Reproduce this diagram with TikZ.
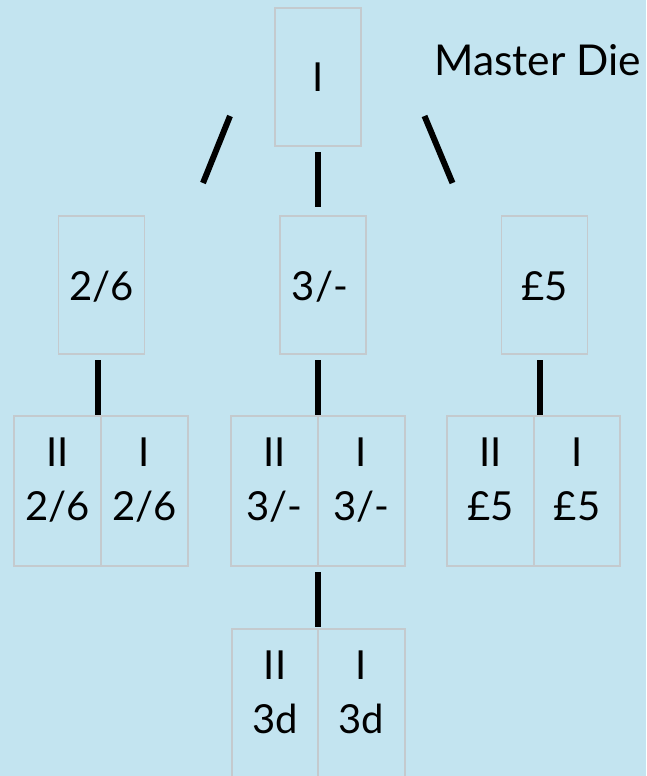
\documentclass[tikz,border=0pt]{standalone}
\usepackage{fontspec}
\setmainfont{Lato}
\definecolor{bgblue}{HTML}{C3E4F0}
\definecolor{boxgray}{HTML}{C4CACE}
\begin{document}
\begin{tikzpicture}[x=1pt,y=-1pt,
  box/.style={draw=boxgray,line width=1.4pt,inner sep=0pt,minimum width=86pt},
  tallbox/.style={box,minimum height=138pt},
  cellbox/.style={box,minimum height=150pt},
  lbl/.style={inner sep=0pt,anchor=base,font=\fontsize{40}{48}\selectfont},
  stroke/.style={line width=6pt,black}]
\clip (0,0) rectangle (646,776);
\fill[bgblue] (0,0) rectangle (646,776);
% top
\node[tallbox] (top) at (318,77) {};
\node[lbl] (topt) at (318,91) {I};
\node[lbl,anchor=base west,font=\fontsize{42.5}{48}\selectfont] (master) at (434,75) {Master Die};
% row 2
\node[tallbox] (b1) at (101.5,285) {};
\node[tallbox] (b2) at (323,285) {};
\node[tallbox] (b3) at (544.5,285) {};
\node[lbl] (b1t) at (101.5,300) {2/6};
\node[lbl] (b2t) at (320,300) {3/-};
\node[lbl] (b3t) at (544.5,300) {£5};
% connectors row1-row2
\coordinate (s1a) at (230,116);
\coordinate (s1b) at (203,183);
\coordinate (s2a) at (318,152);
\coordinate (s2b) at (318,207);
\coordinate (s3a) at (424.5,116);
\coordinate (s3b) at (452.5,183);
\draw[stroke] (s1a) -- (s1b);
\draw[stroke] (s2a) -- (s2b);
\draw[stroke] (s3a) -- (s3b);
% connectors row2-row3
\coordinate (v1a) at (98,360);
\coordinate (v1b) at (98,415);
\coordinate (v2a) at (318,360);
\coordinate (v2b) at (318,415);
\coordinate (v3a) at (540,360);
\coordinate (v3b) at (540,415);
\draw[stroke] (v1a) -- (v1b);
\draw[stroke] (v2a) -- (v2b);
\draw[stroke] (v3a) -- (v3b);
% row 3 cells
\node[cellbox,minimum width=87pt] (c1) at (57.5,491) {};
\node[cellbox,minimum width=87pt] (c2) at (144.5,491) {};
\node[cellbox,minimum width=87pt] (c3) at (274.5,491) {};
\node[cellbox,minimum width=87pt] (c4) at (361.5,491) {};
\node[cellbox,minimum width=87pt] (c5) at (490.5,491) {};
\node[cellbox,minimum width=86pt] (c6) at (577,491) {};
\node[lbl] (c1a) at (57.5,466) {II};
\node[lbl] (c1b) at (57.5,520) {2/6};
\node[lbl] (c2a) at (144.5,466) {I};
\node[lbl] (c2b) at (144.5,520) {2/6};
\node[lbl] (c3a) at (274.5,466) {II};
\node[lbl] (c3b) at (274.5,520) {3/-};
\node[lbl] (c4a) at (361.5,466) {I};
\node[lbl] (c4b) at (361.5,520) {3/-};
\node[lbl] (c5a) at (490.5,466) {II};
\node[lbl] (c5b) at (490.5,520) {£5};
\node[lbl] (c6a) at (577,466) {I};
\node[lbl] (c6b) at (577,520) {£5};
% connector row3-row4
\coordinate (w1a) at (318,572);
\coordinate (w1b) at (318,627);
\draw[stroke] (w1a) -- (w1b);
% row 4 cells
\node[cellbox,minimum width=86pt] (d1) at (275,704) {};
\node[cellbox,minimum width=87pt] (d2) at (361.5,704) {};
\node[lbl] (d1a) at (275,679) {II};
\node[lbl] (d1b) at (275,733) {3d};
\node[lbl] (d2a) at (361.5,679) {I};
\node[lbl] (d2b) at (361.5,733) {3d};
\end{tikzpicture}
\end{document}
